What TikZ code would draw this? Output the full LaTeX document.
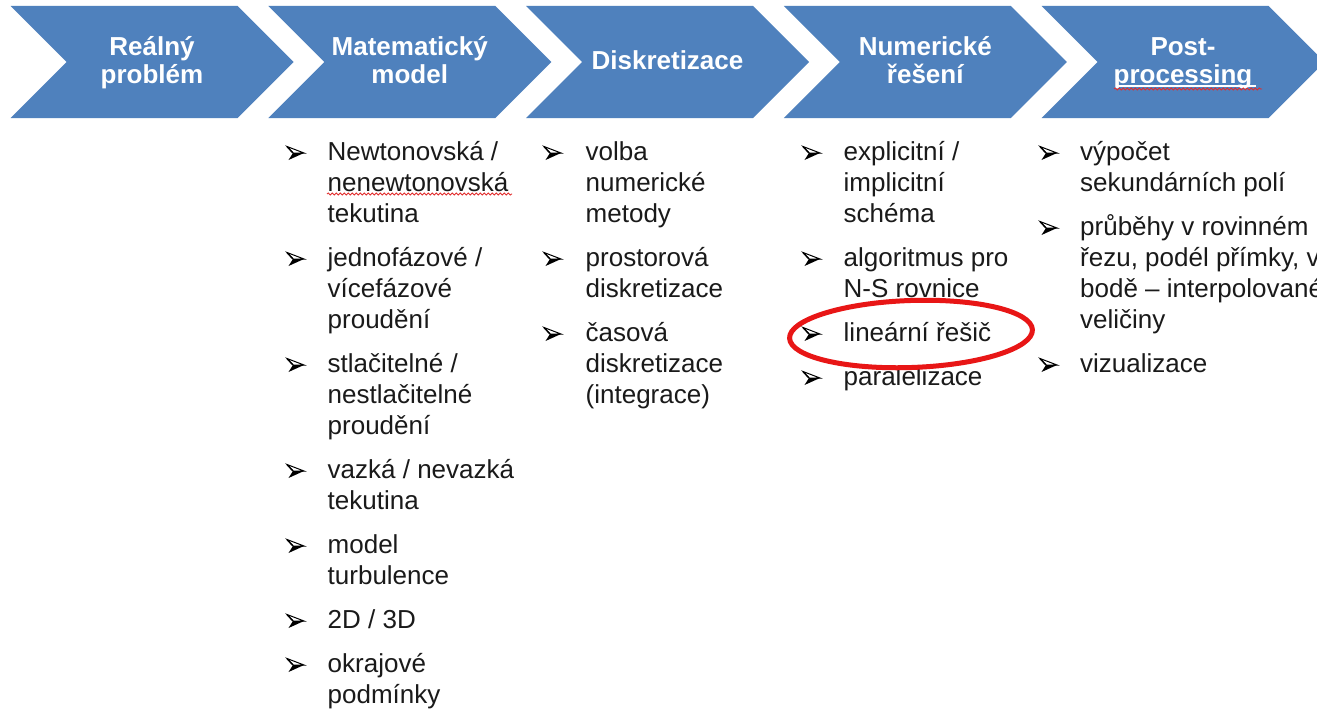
\documentclass[tikz,border=0pt]{standalone}
\usepackage{fontspec}
\setmainfont{Liberation Sans}
\usetikzlibrary{shapes.geometric,decorations.pathmorphing}

\definecolor{chev}{RGB}{79,129,189}
\definecolor{ring}{RGB}{232,22,22}
\definecolor{spell}{RGB}{226,45,45}
\definecolor{ink}{RGB}{26,26,26}

\tikzset{
  chevshape/.style={fill=chev},
  chevtext/.style={text=white, font=\fontsize{26}{28}\selectfont\bfseries, inner sep=0pt, anchor=base},
  itemtext/.style={text=ink, font=\fontsize{26}{31}\selectfont, inner sep=0pt, anchor=base west},
  spellwave/.style={draw=spell, line width=0.8pt, decorate,
    decoration={snake, amplitude=1.1pt, segment length=4pt}},
  pics/arrowbullet/.style={code={
    % three-d arrowhead: lit upper half, dark lower half
    \filldraw[fill=white, draw=black, line width=1pt, line join=miter]
      (6,0) -- (0,-6.5) -- (17,0) -- cycle;
    \fill[black] (6,0) -- (17,0) -- (1.5,7) -- cycle;
    \draw[black, line width=1.4pt] (0,-6.5) -- (6,0);
  }},
}

\newcommand{\lines}[1]{\begin{tabular}[t]{@{}l@{}}#1\end{tabular}}
\newcommand{\clines}[1]{\begin{tabular}[t]{@{}c@{}}#1\end{tabular}}

\begin{document}
\begin{tikzpicture}[x=1pt, y=-1pt]
  \useasboundingbox (0,0) rectangle (1317,709);
  \fill[white] (0,0) rectangle (1317,709);
  \clip (0,0) rectangle (1317,709);

  % process chevrons
  \foreach \i in {0,...,4} {
    \pgfmathsetmacro{\xo}{10.5+257.75*\i}
    \fill[chevshape] (\xo,6) -- ++(227,0) -- ++(56,56) -- ++(-56,56)
      -- ++(-227,0) -- ++(56,-56) -- cycle;
  }

  % chevron captions
  \node[chevtext] (c1) at (152,56)    {\clines{Reálný\\problém}};
  \node[chevtext] (c2) at (409.75,56) {\clines{Matematický\\model}};
  \node[chevtext] (c3) at (667.5,70)  {Diskretizace};
  \node[chevtext] (c4) at (925.25,56) {\clines{Numerické\\řešení}};
  \node[chevtext] (c5) at (1183,56)   {\clines{Post-\\processing}};
  \draw[white, line width=1.8pt] (1116,85.6) -- (1256,85.6);
  \draw[spellwave] (1114,89) -- (1262,89);

  % column: mathematical model
  \node[itemtext] (m1) at (327.5,160) {\lines{Newtonovská /\\nenewtonovská\\tekutina}};
  \node[itemtext] (m2) at (327.5,266) {\lines{jednofázové /\\vícefázové\\proudění}};
  \node[itemtext] (m3) at (327.5,372) {\lines{stlačitelné /\\nestlačitelné\\proudění}};
  \node[itemtext] (m4) at (327.5,478) {\lines{vazká / nevazká\\tekutina}};
  \node[itemtext] (m5) at (327.5,553) {\lines{model\\turbulence}};
  \node[itemtext] (m6) at (327.5,628) {2D / 3D};
  \node[itemtext] (m7) at (327.5,672) {\lines{okrajové\\podmínky}};
  \draw[spellwave] (327,194) -- (512,194);
  \foreach \y in {160,266,372,478,553,628,672}
    \pic at (287,\y-7) {arrowbullet};

  % column: discretization
  \node[itemtext] (d1) at (585.5,160) {\lines{volba\\numerické\\metody}};
  \node[itemtext] (d2) at (585.5,266) {\lines{prostorová\\diskretizace}};
  \node[itemtext] (d3) at (585.5,341) {\lines{časová\\diskretizace\\(integrace)}};
  \foreach \y in {160,266,341}
    \pic at (544,\y-7) {arrowbullet};

  % column: numerical solution
  \node[itemtext] (n1) at (843.5,160) {\lines{explicitní /\\implicitní\\schéma}};
  \node[itemtext] (n2) at (843.5,266) {\lines{algoritmus pro\\N-S rovnice}};
  \node[itemtext] (n3) at (843.5,341) {lineární řešič};
  \node[itemtext] (n4) at (843.5,385) {paralelizace};
  \foreach \y in {160,266,341,385}
    \pic at (803,\y-7) {arrowbullet};

  % column: post-processing
  \node[itemtext] (p1) at (1080,160) {\lines{výpočet\\sekundárních polí}};
  \node[itemtext] (p2) at (1080,235) {\lines{průběhy v rovinném\\řezu, podél přímky, v\\bodě – interpolované\\veličiny}};
  \node[itemtext] (p3) at (1080,372) {vizualizace};
  \foreach \y in {160,235,372}
    \pic at (1040,\y-7) {arrowbullet};

  % highlight of the linear solver
  \node[ellipse, draw=ring, line width=5pt, minimum width=243pt, minimum height=67pt,
        inner sep=0pt, rotate=2] (hl) at (911,334) {};
\end{tikzpicture}
\end{document}
